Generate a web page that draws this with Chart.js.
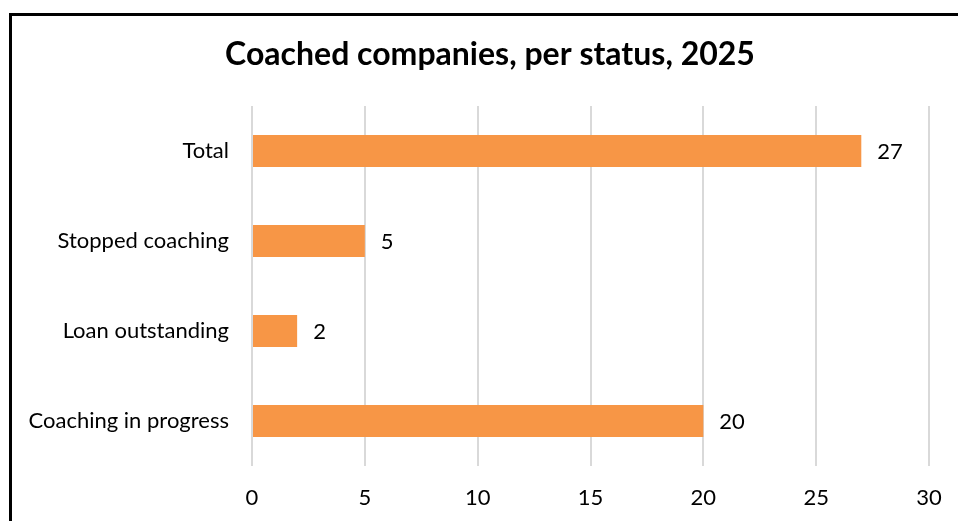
<!DOCTYPE html>
<html>
<head>
<meta charset="utf-8">
<script src="https://cdn.jsdelivr.net/npm/chart.js@4/dist/chart.umd.min.js"></script>
<style>
  html, body { margin: 0; padding: 0; background: #fff; overflow: hidden; }
  #frame {
    position: absolute; left: 9px; top: 13px;
    width: 1200px; height: 800px;
    border: 3px solid #000; box-sizing: border-box;
  }
  #wrap { position: absolute; left: 0; top: 0; width: 958px; height: 521px; }
</style>
</head>
<body>
<div id="frame"></div>
<div id="wrap"><canvas id="chart" width="958" height="521"></canvas></div>
<script>
const categories = ['Total', 'Stopped coaching', 'Loan outstanding', 'Coaching in progress'];
const companies = [27, 5, 2, 20];
const xTicks = [0, 5, 10, 15, 20, 25, 30];
const chartTitle = 'Coached companies, per status, 2025';

const FONT = 'Lato, "Noto Sans", sans-serif';
const LABEL_SIZE = 22;

// title centred on the framed box rather than the plot
const boxTitle = {
  id: 'boxTitle',
  afterDraw(chart) {
    const ctx = chart.ctx;
    ctx.save();
    ctx.font = 'bold 32px ' + FONT;
    ctx.fillStyle = '#000';
    ctx.textAlign = 'center';
    ctx.textBaseline = 'middle';
    ctx.fillText(chartTitle, 490, 55);
    ctx.restore();
  }
};

// writes each bar's value just past its end
const valueLabels = {
  id: 'valueLabels',
  afterDatasetsDraw(chart) {
    const ctx = chart.ctx;
    const meta = chart.getDatasetMeta(0);
    ctx.save();
    ctx.font = LABEL_SIZE + 'px ' + FONT;
    ctx.fillStyle = '#000';
    ctx.textAlign = 'left';
    ctx.textBaseline = 'middle';
    meta.data.forEach((bar, i) => {
      ctx.fillText(String(chart.data.datasets[0].data[i]), bar.x + 16, bar.y + 1);
    });
    ctx.restore();
  }
};

new Chart(document.getElementById('chart'), {
  type: 'bar',
  data: {
    labels: categories,
    datasets: [{
      data: companies,
      backgroundColor: '#F79646',
      borderWidth: 0,
      categoryPercentage: 1,
      barPercentage: 0.355
    }]
  },
  options: {
    indexAxis: 'y',
    responsive: false,
    animation: false,
    layout: { padding: { left: 0, right: 29, top: 106, bottom: 0 } },
    plugins: {
      legend: { display: false },
      tooltip: { enabled: false },
      title: { display: false }
    },
    scales: {
      x: {
        min: 0,
        max: 30,
        afterBuildTicks(scale) { scale.ticks = xTicks.map(v => ({ value: v })); },
        afterFit(scale) {
          scale.height = 55;
          scale.paddingLeft = 0;
          scale.paddingRight = 0;
        },
        grid: { color: '#d9d9d9', lineWidth: 2, drawTicks: false },
        border: { display: false },
        ticks: { color: '#000', padding: 19, font: { family: FONT, size: LABEL_SIZE } }
      },
      y: {
        afterFit(scale) {
          scale.width = 252;
          scale.paddingTop = 0;
          scale.paddingBottom = 0;
        },
        grid: { display: false, drawTicks: false },
        border: { display: false },
        ticks: { color: '#000', padding: 23, font: { family: FONT, size: LABEL_SIZE } }
      }
    }
  },
  plugins: [valueLabels, boxTitle]
});
</script>
</body>
</html>
